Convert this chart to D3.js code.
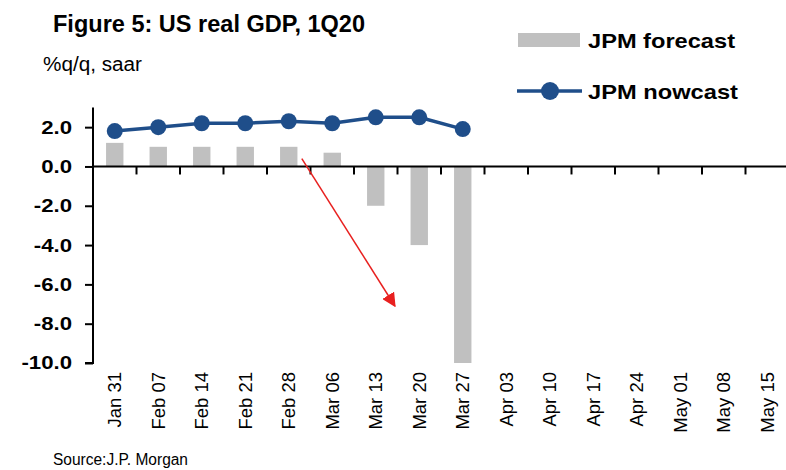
<!DOCTYPE html>
<html>
<head>
<meta charset="utf-8">
<script src="https://cdn.jsdelivr.net/npm/d3@7"></script>
<style>
  body { margin: 0; background: #fff; }
  svg { font-family: "Liberation Sans", Arial, sans-serif; }
</style>
</head>
<body>
<div id="chart"></div>
<script>
// Weekly dates on the x axis
const weeks = ["Jan 31", "Feb 07", "Feb 14", "Feb 21", "Feb 28", "Mar 06", "Mar 13", "Mar 20",
               "Mar 27", "Apr 03", "Apr 10", "Apr 17", "Apr 24", "May 01", "May 08", "May 15"];

// JPM forecast (bars), %q/q saar
const forecast = [1.2, 1.0, 1.0, 1.0, 1.0, 0.7, -2.0, -4.0, -10.0];

// JPM nowcast (line)
const nowcast = [1.8, 2.0, 2.2, 2.2, 2.3, 2.2, 2.5, 2.5, 1.9];

const yTicks = [2, 0, -2, -4, -6, -8, -10];

// red arrow annotation, in data terms (week, fraction of a step, value)
const arrowFrom = {week: "Feb 28", shift: 0.3, value: 0.4};
const arrowTo = {week: "Mar 13", shift: 0.44, value: -7.1};

const width = 786, height = 470;
const barColor = "#c0c0c0", lineColor = "#1f4e8a";

const svg = d3.select("#chart").append("svg")
  .attr("width", width)
  .attr("height", height);

// Scales
const x = d3.scaleBand()
  .domain(weeks)
  .range([93, 789])
  .paddingInner(0.6)
  .paddingOuter(0.3);

const y = d3.scaleLinear()
  .domain([-10, 3])
  .range([363, 107.5]);

const cx = d => x(d) + x.bandwidth() / 2;

// Titles
svg.append("text")
  .attr("x", 53).attr("y", 32)
  .attr("font-size", 23).attr("font-weight", "bold")
  .attr("textLength", 312).attr("lengthAdjust", "spacingAndGlyphs")
  .text("Figure 5: US real GDP, 1Q20");

svg.append("text")
  .attr("x", 43).attr("y", 71)
  .attr("font-size", 20)
  .attr("textLength", 99).attr("lengthAdjust", "spacingAndGlyphs")
  .text("%q/q, saar");

// Legend
svg.append("rect")
  .attr("x", 518).attr("y", 33).attr("width", 62).attr("height", 14)
  .attr("fill", barColor);
svg.append("text")
  .attr("x", 588).attr("y", 48)
  .attr("font-size", 21).attr("font-weight", "bold")
  .attr("textLength", 147).attr("lengthAdjust", "spacingAndGlyphs")
  .text("JPM forecast");

svg.append("line")
  .attr("x1", 517).attr("x2", 582).attr("y1", 91).attr("y2", 91)
  .attr("stroke", lineColor).attr("stroke-width", 3.5);
svg.append("circle")
  .attr("cx", 550).attr("cy", 91).attr("r", 9)
  .attr("fill", lineColor);
svg.append("text")
  .attr("x", 588).attr("y", 99)
  .attr("font-size", 21).attr("font-weight", "bold")
  .attr("textLength", 150).attr("lengthAdjust", "spacingAndGlyphs")
  .text("JPM nowcast");

// Bars
svg.selectAll(".bar")
  .data(forecast)
  .enter().append("rect")
  .attr("class", "bar")
  .attr("x", (d, i) => x(weeks[i]))
  .attr("width", x.bandwidth())
  .attr("y", d => y(Math.max(0, d)))
  .attr("height", d => Math.abs(y(d) - y(0)))
  .attr("fill", barColor);

// Y axis (plain hyphen for negatives, like the original)
const fmt = d => d.toFixed(1);
const yAxis = svg.append("g")
  .attr("transform", "translate(93,0)")
  .call(d3.axisLeft(y).tickValues(yTicks).tickSize(8).tickFormat(fmt));
yAxis.select(".domain").attr("stroke-width", 2).attr("d", `M-8,${y(-10)}H0V${y(3)}`);
yAxis.selectAll(".tick line").attr("stroke-width", 2);
yAxis.selectAll(".tick text")
  .attr("x", 0)
  .attr("transform", "translate(-21,0) scale(1.2,1)")
  .attr("font-size", 18.5).attr("font-weight", "bold")
  .attr("fill", "#000");

// Zero line with ticks at week boundaries
svg.append("line")
  .attr("x1", 93).attr("x2", width).attr("y1", y(0)).attr("y2", y(0))
  .attr("stroke", "#000").attr("stroke-width", 2);
svg.selectAll(".xtick")
  .data(weeks.slice(1))
  .enter().append("line")
  .attr("class", "xtick")
  .attr("x1", d => x(d) - x.step() * x.paddingInner() / 2)
  .attr("x2", d => x(d) - x.step() * x.paddingInner() / 2)
  .attr("y1", y(0)).attr("y2", y(0) + 8)
  .attr("stroke", "#000").attr("stroke-width", 2);

// Line and markers
const line = d3.line()
  .x((d, i) => cx(weeks[i]))
  .y(d => y(d));

svg.append("path")
  .datum(nowcast)
  .attr("d", line)
  .attr("fill", "none")
  .attr("stroke", lineColor)
  .attr("stroke-width", 3.5);

svg.selectAll(".dot")
  .data(nowcast)
  .enter().append("circle")
  .attr("class", "dot")
  .attr("cx", (d, i) => cx(weeks[i]))
  .attr("cy", d => y(d))
  .attr("r", 8)
  .attr("fill", lineColor);

// X labels, placed under the plot
const xAxis = svg.append("g")
  .attr("transform", "translate(0,366)")
  .call(d3.axisBottom(x).tickSize(0).tickPadding(0));
xAxis.select(".domain").remove();
xAxis.selectAll("text")
  .attr("font-size", 18.5)
  .attr("fill", "#000")
  .style("text-anchor", "end")
  .attr("x", -6)
  .attr("y", 0)
  .attr("dy", "0.35em")
  .attr("transform", "rotate(-90)");

// Red arrow
const defs = svg.append("defs");
defs.append("marker")
  .attr("id", "arrowHead")
  .attr("viewBox", "0 0 10 10")
  .attr("refX", 9).attr("refY", 5)
  .attr("markerWidth", 14).attr("markerHeight", 14)
  .attr("markerUnits", "userSpaceOnUse")
  .attr("orient", "auto")
  .append("path")
  .attr("d", "M0,0L10,5L0,10Z")
  .attr("fill", "#e8201f");

svg.append("line")
  .attr("x1", cx(arrowFrom.week) + arrowFrom.shift * x.step())
  .attr("y1", y(arrowFrom.value))
  .attr("x2", cx(arrowTo.week) + arrowTo.shift * x.step())
  .attr("y2", y(arrowTo.value))
  .attr("stroke", "#e8201f").attr("stroke-width", 1.5)
  .attr("marker-end", "url(#arrowHead)");

// Source
svg.append("text")
  .attr("x", 53).attr("y", 465)
  .attr("font-size", 16)
  .attr("textLength", 135).attr("lengthAdjust", "spacingAndGlyphs")
  .text("Source:J.P. Morgan");
</script>
</body>
</html>
